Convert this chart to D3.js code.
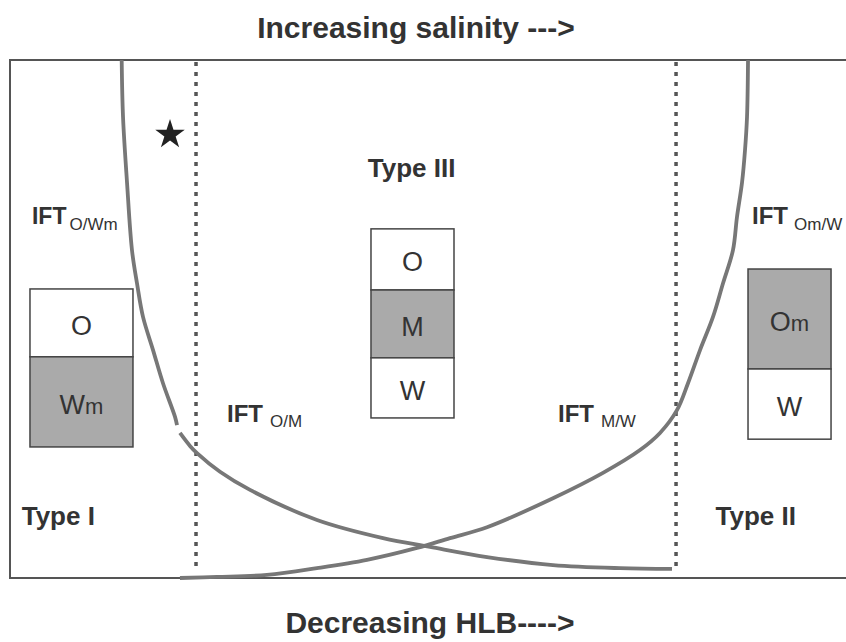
<!DOCTYPE html>
<html>
<head>
<meta charset="utf-8">
<script src="https://cdn.jsdelivr.net/npm/d3@7"></script>
<style>
  html, body { margin: 0; padding: 0; background: #fff; }
  svg { display: block; }
  text { font-family: "Liberation Sans", Arial, Helvetica, sans-serif; fill: #333; }
</style>
</head>
<body>
<svg id="chart" width="846" height="642"></svg>
<script>
// ---- Data (schematic units: x = salinity 0..100, y = IFT 0..100) ----
const titleTop = "Increasing salinity --->";
const titleBottom = "Decreasing HLB---->";

// Curve: IFT O/Wm (upper branch of left curve)
const iftOWmX = [13.36, 13.52, 14.0, 14.59, 15.19, 15.91, 17.11, 18.30, 19.74, 19.98];
const iftOWmY = [100, 89.0, 76.3, 63.3, 56.9, 50.4, 44.0, 37.6, 31.1, 29.5];
// Curve: IFT O/M (lower branch of left curve)
const iftOMX = [20.33, 21.53, 22.37, 25.12, 28.71, 36.72, 44.62, 50.24, 57.06, 64.95, 72.97, 79.19];
const iftOMY = [28.0, 25.5, 24.1, 20.5, 17.0, 11.2, 7.7, 6.0, 4.05, 2.5, 1.9, 1.75];
// Curve: IFT M/W -> IFT Om/W (right curve)
const iftMWX = [20.33, 24.76, 30.74, 36.72, 42.70, 48.68, 52.63, 57.06, 64.95, 70.93, 75.36, 77.75, 79.78, 81.10, 82.54, 84.09, 85.29, 86.48, 86.96, 87.56, 87.92, 88.16, 88.28];
const iftMWY = [0, 0.2, 0.6, 1.9, 3.5, 5.8, 7.7, 9.8, 15.4, 20.3, 24.7, 28.0, 32.4, 37.6, 44.0, 50.4, 56.9, 63.3, 69.7, 76.3, 82.6, 89.0, 100];

// Phase boundaries (salinity)
const boundaries = [22.25, 79.67];

// Phase-type labels
const typeLabels = ["Type I", "Type III", "Type II"];

// Phase boxes: layer labels (top to bottom), and whether layer is the microemulsion phase
const boxILayers = ["O", "Wm"];
const boxIShaded = [false, true];
const boxIIILayers = ["O", "M", "W"];
const boxIIIShaded = [false, true, false];
const boxIILayers = ["Om", "W"];
const boxIIShaded = [true, false];

// IFT labels
const iftLabels = ["IFT", "IFT", "IFT", "IFT"];
const iftSubs = ["O/Wm", "O/M", "M/W", "Om/W"];

// ---- Layout ----
const W = 846, H = 642;
const svg = d3.select("#chart");
const x = d3.scaleLinear().domain([0, 100]).range([10, 846]);
const y = d3.scaleLinear().domain([0, 100]).range([578, 60]);

const frameColor = "#555";
const curveColor = "#777";
const shade = "#aaaaaa";

// Frame (open at the right edge)
svg.append("path")
  .attr("d", `M${W},${y(100)} H${x(0)} V${y(0)} H${W}`)
  .attr("fill", "none").attr("stroke", frameColor).attr("stroke-width", 2);

// Dotted phase boundaries
svg.selectAll("line.bound").data(boundaries).enter().append("line")
  .attr("class", "bound")
  .attr("x1", d => x(d)).attr("x2", d => x(d))
  .attr("y1", y(100) + 2).attr("y2", y(1.2))
  .attr("stroke", "#555").attr("stroke-width", 3.5)
  .attr("stroke-dasharray", "4 6");

// Curves
const line = d3.line().x(d => x(d[0])).y(d => y(d[1])).curve(d3.curveCatmullRom.alpha(0.5));
const zip = (a, b) => a.map((v, i) => [v, b[i]]);
[zip(iftOWmX, iftOWmY), zip(iftOMX, iftOMY), zip(iftMWX, iftMWY)].forEach(pts => {
  svg.append("path").attr("d", line(pts))
    .attr("fill", "none").attr("stroke", curveColor)
    .attr("stroke-width", 3.8).attr("stroke-linecap", "butt");
});

// Star
svg.append("path")
  .attr("d", d3.symbol().type(d3.symbolStar).size(270)())
  .attr("transform", `translate(${x(19.14)},${y(85.6)})`)
  .attr("fill", "#222");

// Titles
svg.append("text").attr("x", 416).attr("y", 38)
  .attr("text-anchor", "middle").attr("font-size", 30).attr("font-weight", "bold")
  .text(titleTop);
svg.append("text").attr("x", 430).attr("y", 633)
  .attr("text-anchor", "middle").attr("font-size", 30).attr("font-weight", "bold")
  .text(titleBottom);

// Type labels
const typePos = [[1.4, 10.2], [42.8, 77.5], [84.4, 10.2]];
typeLabels.forEach((t, i) => {
  svg.append("text").attr("x", x(typePos[i][0])).attr("y", y(typePos[i][1]))
    .attr("font-size", 26).attr("font-weight", "bold").text(t);
});

// IFT labels
const iftPos = [[2.63, 68.3, 23, 3, 6], [25.96, 30.1, 24, 7, 5], [65.55, 30.1, 24, 7, 5], [88.76, 68.3, 24, 6, 6]];
iftLabels.forEach((t, i) => {
  const [px, py, fs, gap, dy] = iftPos[i];
  const tx = svg.append("text").attr("x", x(px)).attr("y", y(py))
    .attr("font-size", fs).attr("font-weight", "bold");
  tx.append("tspan").text(t);
  tx.append("tspan").attr("dx", gap).attr("dy", dy)
    .attr("font-size", 17).attr("font-weight", "normal").text(iftSubs[i]);
});

// Boxes
function drawBox(x0, x1, edges, labels, shaded) {
  const g = svg.append("g");
  labels.forEach((lab, i) => {
    const top = y(edges[i]), bot = y(edges[i + 1]);
    g.append("rect")
      .attr("x", x(x0)).attr("y", top)
      .attr("width", x(x1) - x(x0)).attr("height", bot - top)
      .attr("fill", shaded[i] ? shade : "#fff")
      .attr("stroke", "#444").attr("stroke-width", 1.5);
    const cx = (x(x0) + x(x1)) / 2, cy = (top + bot) / 2 + 2;
    const t = g.append("text").attr("x", cx).attr("y", cy)
      .attr("text-anchor", "middle").attr("dy", "0.36em").attr("font-size", 27);
    t.append("tspan").text(lab[0]);
    if (lab.length > 1) t.append("tspan").attr("font-size", 22).text(lab.slice(1));
  });
}
drawBox(2.39, 14.71, [55.8, 42.7, 25.3], boxILayers, boxIShaded);
drawBox(43.18, 53.11, [67.4, 55.6, 42.5, 30.9], boxIIILayers, boxIIIShaded);
drawBox(88.28, 98.21, [59.65, 40.35, 26.8], boxIILayers, boxIIShaded);
</script>
</body>
</html>
